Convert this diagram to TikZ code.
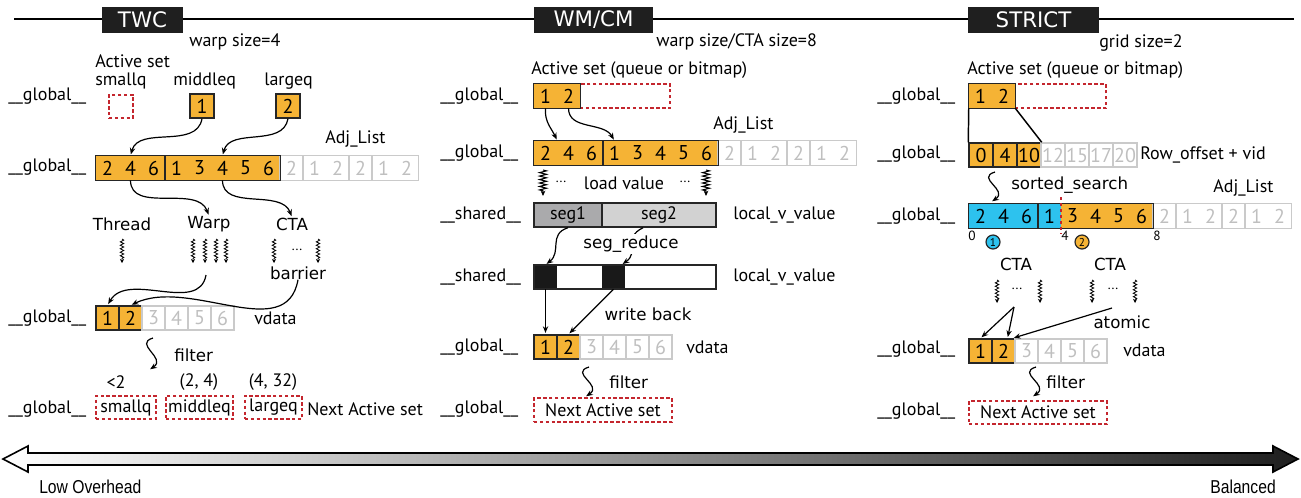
\documentclass[tikz,border=0pt]{standalone}
\usepackage{fontspec}
\setmainfont{PT Sans}
\newfontfamily\handfont{DejaVu Sans}
\newfontfamily\narrowfont{Liberation Sans}
\usetikzlibrary{arrows.meta, decorations.pathmorphing}

\definecolor{orng}{HTML}{F5B335}
\definecolor{skyc}{HTML}{2DC2EE}
\definecolor{redd}{HTML}{C4262E}
\definecolor{ghost}{HTML}{CACACA}
\definecolor{segA}{HTML}{AAAAAC}
\definecolor{segB}{HTML}{D2D2D2}

\newcommand{\upx}{0.75pt}

\tikzset{
  lbl/.style={anchor=west, inner sep=0pt, font=\fontsize{13.5}{15}\selectfont},
  txt/.style={inner sep=0pt, font=\fontsize{13.5}{15}\selectfont},
  small/.style={inner sep=0pt, font=\fontsize{10}{11}\selectfont},
  hand/.style={inner sep=0pt, font=\handfont\fontsize{12.5}{14}\selectfont},
  ttl/.style={fill=black!88, text=white, inner sep=0pt, font=\handfont\fontsize{16}{18}\selectfont},
  num/.style={minimum width=23*\upx, minimum height=24*\upx, inner sep=0pt, font=\fontsize{15}{17}\selectfont},
  oc/.style={num, fill=orng},
  bc/.style={num, fill=skyc},
  gc/.style={num, text=black!25},
  cellframe/.style={draw=black!85, line width=1.1pt},
  ghostframe/.style={draw=ghost, line width=1.1pt},
  redbox/.style={draw=redd, line width=1.2pt, dash pattern=on 2.6pt off 1.8pt, inner sep=0pt, font=\fontsize{13.5}{15}\selectfont},
  curv/.style={-{Stealth[length=5pt,width=4pt]}, line width=0.9pt, shorten >=1pt},
  wig/.style={decorate, decoration={snake, amplitude=1.3pt, segment length=2.6pt, post length=2.5pt}, line width=0.6pt, -{Stealth[length=3pt,width=3pt]}},
  spring/.style={decorate, decoration={zigzag, amplitude=2.6pt, segment length=2.6pt, post length=3pt}, line width=0.8pt, -{Stealth[length=4pt,width=3.5pt]}},
}

\begin{document}
\begin{tikzpicture}[x=0.75pt, y=-0.75pt]
\useasboundingbox (0,0) rectangle (1301,497);

% headline and titles
\draw[line width=2.2pt] (14,19) -- (1294,19);
\node[ttl, minimum width=81*\upx, minimum height=26*\upx] (twc) at (142.5,20) {TWC};
\node[ttl, minimum width=119*\upx, minimum height=26*\upx] (wmcm) at (593.5,20) {WM/CM};
\node[ttl, minimum width=131*\upx, minimum height=26*\upx] (strict) at (1033.5,20) {STRICT};
\node[txt, anchor=west] (ws1) at (189,42) {warp size=4};
\node[txt, anchor=west] (ws2) at (656,42) {warp size/CTA size=8};
\node[txt, anchor=west] (ws3) at (1099,43) {grid size=2};

%%%% TWC
\foreach \y [count=\i] in {96,167,318,409}
  \node[lbl] (tl\i) at (8,\y) {\_\_global\_\_};
\node[txt, anchor=west] (tact) at (95,61) {Active set};
\node[txt, anchor=west] (tsq) at (95,81) {smallq};
\node[txt, anchor=west] (tmq) at (173,81) {middleq};
\node[txt, anchor=west] (tlq) at (264,81) {largeq};
\node[redbox, minimum width=24*\upx, minimum height=23*\upx] (tsqbox) at (121,106.5) {};
\node[oc, cellframe, minimum width=24*\upx] (tm1) at (202,106) {1};
\node[oc, cellframe, minimum width=24*\upx] (tq2) at (288,106) {2};

\node[txt, anchor=west] (tadj) at (325,139) {Adj\_List};
\foreach \d [count=\i] in {2,4,6}
  \node[oc] (ta\i) at ({96+23*(\i-0.5)},168) {\d};
\foreach \d [count=\i] in {1,3,4,5,6}
  \node[oc] (tb\i) at ({165+23*(\i-0.5)},168) {\d};
\foreach \d [count=\i] in {2,1,2,2,1,2}
  \node[gc] (tg\i) at ({280+23*(\i-0.5)},168) {\d};
\draw[ghostframe] (tg1.north west) rectangle (tg1.south east)
  (tg2.north west) rectangle (tg3.south east)
  (tg4.north west) rectangle (tg4.south east)
  (tg5.north west) rectangle (tg6.south east);
\draw[cellframe] (ta1.north west) rectangle (ta3.south east);
\draw[cellframe] (tb1.north west) rectangle (tb5.south east);
\draw[curv] (tm1.south) to[out=-100,in=75] (ta2.north);
\draw[curv] (tq2.south) to[out=-100,in=75] (tb3.north);

\node[hand] (thr) at (122,224) {Thread};
\node[hand] (twarp) at (209,224) {Warp};
\node[hand] (tcta) at (292,224) {CTA};
\draw[curv] (ta2.south) to[out=-90,in=110] (twarp.north);
\draw[curv] (tb3.south) to[out=-90,in=110] (tcta.north);
\foreach \x in {122,193,205,216,226,274,318}
  \draw[wig] (\x,239) -- (\x,263);
\node[small] (tdots) at (297,250) {...};
\node[hand] (tbar) at (298,273) {barrier};
\coordinate (twend) at (206,275);

\foreach \d [count=\i] in {1,2}
  \node[oc, cellframe] (tv\i) at ({96+23*(\i-0.5)},318) {\d};
\foreach \d [count=\i] in {3,4,5,6}
  \node[gc, ghostframe] (tw\i) at ({142+23*(\i-0.5)},318) {\d};
\node[txt, anchor=west] (tvd) at (254,318) {vdata};
\draw[curv] (twend) to[out=-100,in=60] (tv1.north);
\draw[curv] (tbar.south) to[out=-100,in=25] (tv2.north);

\draw[curv] (153,338) .. controls (133,344) and (167,358) .. (149,370);
\node[hand, anchor=west] (tfil) at (174,355) {filter};
\node[txt] (tr1) at (116,382) {<2};
\node[txt] (tr2) at (199,382) {(2, 4)};
\node[txt] (tr3) at (273,382) {(4, 32)};
\node[redbox, minimum width=60*\upx, minimum height=23*\upx] (tn1) at (126,407.5) {smallq};
\node[redbox, minimum width=67*\upx, minimum height=23*\upx] (tn2) at (199.5,407.5) {middleq};
\node[redbox, minimum width=57*\upx, minimum height=23*\upx] (tn3) at (273.5,407.5) {largeq};
\node[txt, anchor=west] (tnext) at (307,409) {Next Active set};

%%%% WM/CM
\foreach \y [count=\i] in {96,153,347,409}
  \node[lbl] (ml\i) at (440,\y) {\_\_global\_\_};
\foreach \y [count=\i] in {215,277}
  \node[lbl] (ms\i) at (440,\y) {\_\_shared\_\_};
\node[txt, anchor=west] (mact) at (531,70) {Active set (queue or bitmap)};
\node[redbox, minimum width=90*\upx, minimum height=24*\upx] (mrest) at (625,96) {};
\foreach \d [count=\i] in {1,2}
  \node[oc] (mq\i) at ({534+23*(\i-0.5)},96) {\d};
\draw[cellframe] (mq1.north west) rectangle (mq2.south east);

\node[txt, anchor=west] (madj) at (713,125) {Adj\_List};
\foreach \d [count=\i] in {2,4,6}
  \node[oc] (ma\i) at ({534+23*(\i-0.5)},153) {\d};
\foreach \d [count=\i] in {1,3,4,5,6}
  \node[oc] (mb\i) at ({603+23*(\i-0.5)},153) {\d};
\foreach \d [count=\i] in {2,1,2,2,1,2}
  \node[gc] (mg\i) at ({718+23*(\i-0.5)},153) {\d};
\draw[ghostframe] (mg1.north west) rectangle (mg1.south east)
  (mg2.north west) rectangle (mg3.south east)
  (mg4.north west) rectangle (mg4.south east)
  (mg5.north west) rectangle (mg6.south east);
\draw[cellframe] (ma1.north west) rectangle (ma3.south east);
\draw[cellframe] (mb1.north west) rectangle (mb5.south east);
\draw[curv] (mq1.south) to[out=-95,in=115] (ma1.north east);
\draw[curv] (mq2.south) to[out=-90,in=120] (mb1.north);

\draw[spring] (543,170) -- (543,196);
\draw[spring] (706,170) -- (706,196);
\node[small] (mdots1) at (561,182) {...};
\node[txt] (mload) at (624,183) {load value};
\node[small] (mdots2) at (685,182) {...};

\node[num, fill=segA, cellframe, minimum width=68*\upx, font=\fontsize{13.5}{15}\selectfont] (seg1) at (568,215) {seg1};
\node[num, fill=segB, cellframe, minimum width=114*\upx, font=\fontsize{13.5}{15}\selectfont] (seg2) at (659,215) {seg2};
\node[txt, anchor=west] (mloc1) at (733,215) {local\_v\_value};

\node[num, fill=black!90] (blk1) at (545.5,277) {};
\node[num, fill=black!90] (blk2) at (613.5,277) {};
\node[cellframe, minimum width=182*\upx, minimum height=24*\upx, inner sep=0pt] (mrow) at (625,277) {};
\node[txt, anchor=west] (mloc2) at (733,277) {local\_v\_value};
\draw[curv] (seg1.south) .. controls (548,234) and (562,252) .. (blk1.north);
\draw[curv] ([xshift=-16*\upx]seg2.south) .. controls (622,238) and (640,252) .. ([xshift=8*\upx]blk2.north);
\node[hand, fill=white, inner sep=1pt] (mred) at (631,244) {seg\_reduce};

\foreach \d [count=\i] in {1,2}
  \node[oc, cellframe] (mv\i) at ({534+23*(\i-0.5)},347) {\d};
\foreach \d [count=\i] in {3,4,5,6}
  \node[gc, ghostframe] (mw\i) at ({580+23*(\i-0.5)},347) {\d};
\node[txt, anchor=west] (mvd) at (686,347) {vdata};
\draw[curv] (blk1.south) -- (mv1.north);
\draw[curv] (blk2.south) -- (mv2.north);
\node[hand] (mwb) at (648,314) {write back};

\draw[curv] (589,367) .. controls (569,373) and (603,385) .. (585,397);
\node[hand, anchor=west] (mfil) at (609,382) {filter};
\node[redbox, minimum width=138*\upx, minimum height=24*\upx] (mnext) at (603,410) {Next Active set};

%%%% STRICT
\foreach \y [count=\i] in {96,154,216,349,411}
  \node[lbl] (sl\i) at (877,\y) {\_\_global\_\_};
\node[txt, anchor=west] (sact) at (967,70) {Active set (queue or bitmap)};
\node[redbox, minimum width=91*\upx, minimum height=24*\upx] (srest) at (1060.5,96) {};
\foreach \d [count=\i] in {1,2}
  \node[oc] (sq\i) at ({969+23*(\i-0.5)},96) {\d};
\draw[cellframe] (sq1.north west) rectangle (sq2.south east);

\foreach \d [count=\i] in {0,4,10}
  \node[oc, cellframe, minimum width=24*\upx] (so\i) at ({969+24*(\i-0.5)},155) {\d};
\foreach \d [count=\i] in {12,15,17,20}
  \node[gc, ghostframe, minimum width=24*\upx] (sg\i) at ({1041+24*(\i-0.5)},155) {\d};
\node[txt, anchor=west] (srow) at (1140,155) {Row\_offset + vid};
\draw[line width=1.1pt] (sq1.south west) -- (so1.north west);
\draw[line width=1.1pt] (sq2.south east) -- (so3.north east);

\draw[curv] (995,172) .. controls (975,178) and (1009,190) .. (991,202);
\node[hand, anchor=west] (ssort) at (1011,185) {sorted\_search};
\node[txt, anchor=west] (sadj) at (1213,188) {Adj\_List};

\foreach \d [count=\i] in {2,4,6,1}
  \node[bc] (sa\i) at ({969+23*(\i-0.5)},216) {\d};
\foreach \d [count=\i] in {3,4,5,6}
  \node[oc] (sb\i) at ({1061+23*(\i-0.5)},216) {\d};
\foreach \d [count=\i] in {2,1,2,2,1,2}
  \node[gc] (sh\i) at ({1153+23*(\i-0.5)},216) {\d};
\draw[ghostframe] (sh1.north west) rectangle (sh1.south east)
  (sh2.north west) rectangle (sh3.south east)
  (sh4.north west) rectangle (sh4.south east)
  (sh5.north west) rectangle (sh6.south east);
\draw[cellframe] (sa1.north west) rectangle (sa3.south east);
\draw[cellframe] (sa4.north west) rectangle (sb4.south east);
\draw[redd, line width=1.1pt, dash pattern=on 2.5pt off 2pt] (1061,197) -- (1061,234);
\node[small] (si0) at (972,236) {0};
\node[small] (si4) at (1065,236) {4};
\node[small] (si8) at (1157,236) {8};
\node[circle, draw=black!85, fill=skyc, line width=0.9pt, minimum size=14*\upx, inner sep=0pt, font=\fontsize{8.5}{9}\selectfont] (sk1) at (993,242) {1};
\node[circle, draw=black!85, fill=orng, line width=0.9pt, minimum size=14*\upx, inner sep=0pt, font=\fontsize{8.5}{9}\selectfont] (sk2) at (1082,242) {2};

\node[hand] (scta1) at (1016,264) {CTA};
\node[hand] (scta2) at (1110,264) {CTA};
\foreach \x in {997,1040,1092,1135}
  \draw[wig] (\x,280) -- (\x,303);
\node[small] (sdots1) at (1017,289) {...};
\node[small] (sdots2) at (1113,289) {...};
\coordinate (sce1) at (1014,307);
\coordinate (sce2) at (1112,308);
\node[hand] (satom) at (1122,322) {atomic};

\foreach \d [count=\i] in {1,2}
  \node[oc, cellframe] (sv\i) at ({969+23*(\i-0.5)},351) {\d};
\foreach \d [count=\i] in {3,4,5,6}
  \node[gc, ghostframe] (sw\i) at ({1015+23*(\i-0.5)},351) {\d};
\node[txt, anchor=west] (svd) at (1123,350) {vdata};
\draw[curv] (sce1) -- (sv1.north);
\draw[curv] (sce1) -- ([xshift=4*\upx]sv2.north);
\draw[curv] (sce2) -- ([xshift=9*\upx]sv2.north);

\draw[curv] (1036,367) .. controls (1016,373) and (1050,385) .. (1032,397);
\node[hand, anchor=west] (sfil) at (1046,382) {filter};
\node[redbox, minimum width=138*\upx, minimum height=23*\upx] (snext) at (1038,412.5) {Next Active set};

%%%% trade-off arrow
\shadedraw[left color=white, right color=black!88, draw=black, line width=1.2pt]
  (3,459) -- (28,446) -- (28,453) -- (1273,453) -- (1273,446) -- (1298,459)
  -- (1273,472) -- (1273,465) -- (28,465) -- (28,472) -- cycle;
\node[inner sep=0pt, anchor=west, font=\narrowfont\fontsize{14}{16}\selectfont] (low) at (39,487) {\scalebox{0.84}[1]{Low Overhead}};
\node[inner sep=0pt, anchor=east, font=\narrowfont\fontsize{14}{16}\selectfont] (bal) at (1276,487) {\scalebox{0.84}[1]{Balanced}};
\end{tikzpicture}
\end{document}
